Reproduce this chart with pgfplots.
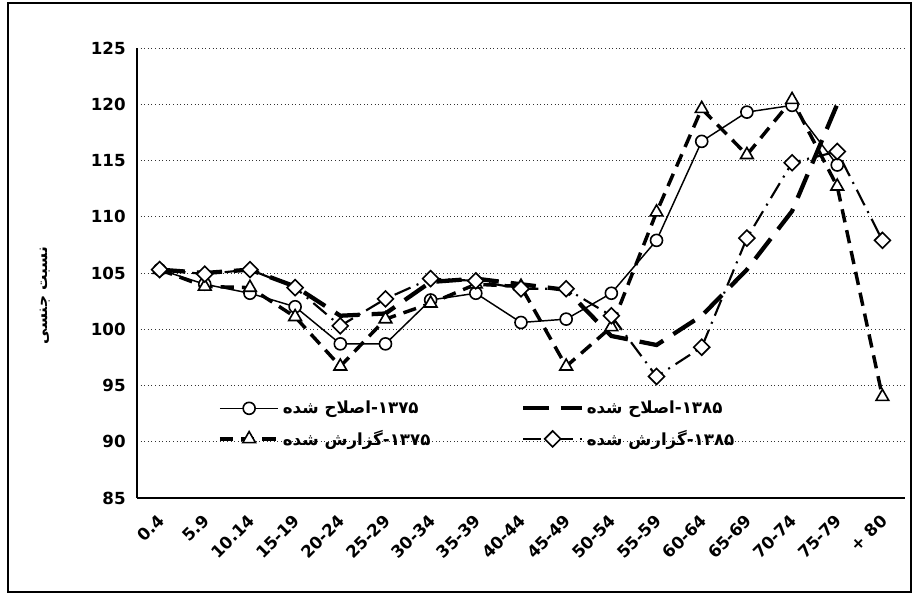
\documentclass[border=0pt]{standalone}
\usepackage{fontspec}
\setmainfont{DejaVu Sans}
\newfontfamily\arabicfont[Script=Arabic]{DejaVu Sans}
\TeXXeTstate=1
\usepackage{pgfplots}
\pgfplotsset{compat=1.18}

\pgfplotstableread{
x s1 s2 s3 s4
0 105.3 105.3 105.3 105.3
1 104.0 105.0 103.8 104.9
2 103.2 105.3 103.7 105.3
3 102.0 103.8 101.1 103.7
4 98.7 101.2 96.7 100.3
5 98.7 101.4 100.9 102.7
6 102.6 104.2 102.3 104.5
7 103.2 104.5 104.0 104.3
8 100.6 104.0 103.8 103.6
9 100.9 103.5 96.7 103.6
10 103.2 99.4 100.2 101.2
11 107.9 98.6 110.4 95.8
12 116.7 101.2 119.6 98.4
13 119.3 105.3 115.5 108.1
14 119.9 110.5 120.4 114.8
15 114.6 120.0 112.7 115.8
16 nan nan 94.0 107.9
}\datatable

\begin{document}
\begin{tikzpicture}[x=0.75pt,y=0.75pt]
\useasboundingbox (0,0) rectangle (917,595);
\draw[line width=1.5pt] (8,3) rectangle (911,592);
\begin{axis}[
  at={(102.75pt,72.75pt)}, anchor=south west,
  scale only axis, width=576pt, height=337.5pt,
  xmin=-0.5, xmax=16.5, ymin=85, ymax=125,
  axis lines*=left,
  axis line style={line width=1.5pt},
  ytick={85,90,...,125},
  xtick={0,...,16},
  xticklabels={0.4,5.9,10.14,15-19,20-24,25-29,30-34,35-39,40-44,45-49,50-54,55-59,60-64,65-69,70-74,75-79,+ 80},
  xticklabel style={yshift=-14pt, xshift=2pt, rotate=45, anchor=east, font=\bfseries\fontsize{12.5}{14}\selectfont, inner sep=1pt},
  yticklabel style={font=\bfseries\fontsize{12.5}{14}\selectfont, xshift=-5pt},
  /pgf/number format/assume math mode=true,
  major tick length=0pt,
  ymajorgrids, grid style={line width=0.7pt, dotted, black!80},
  unbounded coords=jump,
  ylabel={{\arabicfont\bfseries\beginR نسبت جنسی\endR}},
  ylabel style={at={(axis description cs:-0.12,0.45)}, anchor=center, font=\fontsize{11.5}{13}\selectfont},
  legend columns=2,
  legend cell align=left,
  legend style={at={(0.1,0.228)}, anchor=north west, draw=none, fill=none,
    font=\fontsize{12.5}{14}\selectfont, row sep=7pt,
    /tikz/every even column/.append style={column sep=66pt}},
  legend image code/.code={\draw[mark repeat=2,mark phase=2,#1] plot coordinates {(0pt,0pt) (22pt,0pt) (44pt,0pt)};},
]
\addplot[black, line width=1.1pt, mark=*, mark size=4.5pt, mark options={fill=white, solid, line width=1.2pt}] table[x=x,y=s1] {\datatable};
\addlegendentry{{\arabicfont\bfseries\beginR ۱۳۷۵\kern0pt-\kern0pt اصلاح شده\endR}}
\addplot[black, line width=3.2pt, dash pattern=on 19pt off 9pt] table[x=x,y=s2] {\datatable};
\addlegendentry{{\arabicfont\bfseries\beginR ۱۳۸۵\kern0pt-\kern0pt اصلاح شده\endR}}
\addplot[black, line width=2.6pt, dash pattern=on 10pt off 6pt, mark=triangle*, mark size=5.5pt, mark options={fill=white, solid, line width=1.2pt}] table[x=x,y=s3] {\datatable};
\addlegendentry{{\arabicfont\bfseries\beginR ۱۳۷۵\kern0pt-\kern0pt گزارش شده\endR}}
\addplot[black, line width=1.6pt, dash pattern=on 13pt off 5pt on 1.5pt off 5pt, mark=square*, mark size=4.2pt, mark options={fill=white, solid, rotate=45, line width=1.2pt}] table[x=x,y=s4] {\datatable};
\addlegendentry{{\arabicfont\bfseries\beginR ۱۳۸۵\kern0pt-\kern0pt گزارش شده\endR}}
\end{axis}
\end{tikzpicture}
\end{document}
